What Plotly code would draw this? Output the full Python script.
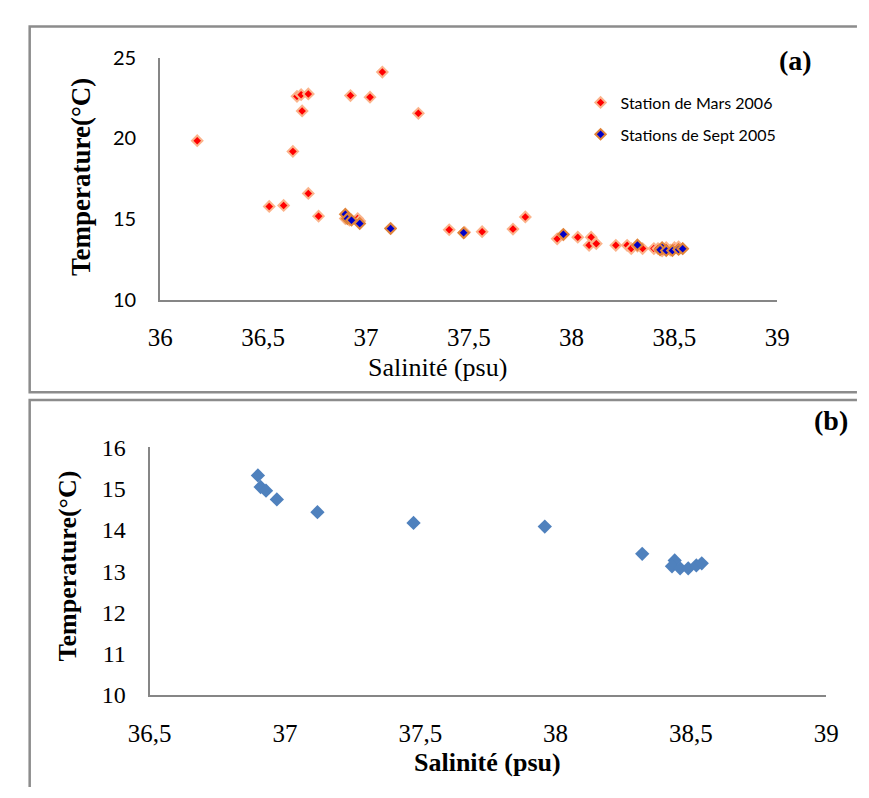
import plotly.graph_objects as go

W, H = 869, 798

# Station de Mars 2006 : salinité (psu) / température (°C)
mars_sal = [36.18, 36.53, 36.60, 36.645, 36.665, 36.685, 36.69, 36.72, 36.72, 36.77,
            36.90, 36.92, 36.96, 36.97, 36.925, 37.02, 37.08, 37.255, 37.12, 37.405,
            37.48, 37.565, 37.715, 37.775, 37.93, 37.96, 38.03, 38.095, 38.085, 38.12,
            38.215, 38.27, 38.29, 38.32, 38.345, 38.40, 38.42, 38.44, 38.46, 38.48,
            38.50, 38.52, 38.54]
mars_temp = [19.86, 15.8, 15.86, 19.2, 22.6, 22.7, 21.7, 22.75, 16.6, 15.2,
             15.05, 14.95, 15.05, 14.9, 22.65, 22.55, 24.1, 21.55, 14.45, 14.36,
             14.2, 14.24, 14.4, 15.15, 13.8, 14.05, 13.9, 13.9, 13.4, 13.5,
             13.4, 13.4, 13.2, 13.35, 13.2, 13.2, 13.2, 13.05, 13.25, 13.1,
             13.25, 13.3, 13.2]

# Stations de Sept 2005
sept_sal = [36.90, 36.91, 36.93, 36.97, 37.12, 37.475, 37.96, 38.32,
            38.44, 38.43, 38.46, 38.49, 38.52, 38.54]
sept_temp = [15.32, 15.04, 14.95, 14.74, 14.43, 14.17, 14.08, 13.42,
             13.26, 13.12, 13.07, 13.07, 13.14, 13.19]

SERIF = "Liberation Serif"
SANS = "Lato"
AXIS_GREY = "#868686"


def px_x(p):
    return p / W


def px_y(p):
    return 1 - p / H


fig = go.Figure()

fig.add_trace(go.Scatter(
    x=mars_sal, y=mars_temp, mode="markers", name="Station de Mars 2006",
    legendgroup="mars", xaxis="x", yaxis="y",
    marker=dict(symbol="diamond", size=8, color="#FF0000",
                line=dict(color="#FBB48C", width=2)),
))
fig.add_trace(go.Scatter(
    x=sept_sal, y=sept_temp, mode="markers", name="Stations de Sept 2005",
    legendgroup="sept", xaxis="x", yaxis="y",
    marker=dict(symbol="diamond", size=8, color="#0000C8",
                line=dict(color="#E0843A", width=2)),
))
fig.add_trace(go.Scatter(
    x=sept_sal, y=sept_temp, mode="markers", showlegend=False,
    xaxis="x2", yaxis="y2",
    marker=dict(symbol="diamond", size=11, color="#4F81BD", line=dict(width=0)),
))

common = dict(showgrid=False, zeroline=False, showline=True, linecolor=AXIS_GREY,
              linewidth=2, ticks="", mirror=False)

fig.update_layout(
    width=W, height=H, autosize=False,
    margin=dict(l=0, r=0, t=0, b=0),
    paper_bgcolor="white", plot_bgcolor="white",
    separators=", ",
    xaxis=dict(domain=[px_x(144), px_x(787)], range=[36, 39], dtick=0.5,
               tickfont=dict(family=SERIF, size=25, color="black"),
               ticklabelstandoff=14, anchor="y", **common),
    yaxis=dict(domain=[px_y(297), px_y(46)], range=[10, 25], dtick=5,
               tickfont=dict(family=SANS, size=20, color="black"),
               ticklabelstandoff=18, anchor="x", **common),
    xaxis2=dict(domain=[px_x(133), px_x(838)], range=[36.5, 39], dtick=0.5,
                tickfont=dict(family=SERIF, size=25, color="black"),
                ticklabelstandoff=15, anchor="y2", **common),
    yaxis2=dict(domain=[px_y(705), px_y(449)], range=[10, 16], dtick=1,
                tickfont=dict(family=SERIF, size=24, color="black"),
                ticklabelstandoff=17, anchor="x2", **common),
    legend=dict(x=px_x(582), y=px_y(75), xanchor="left", yanchor="top",
                font=dict(family=SANS, size=16, color="black"),
                bgcolor="rgba(0,0,0,0)", traceorder="grouped", tracegroupgap=8),
    showlegend=True,
)

annotations = [
    dict(text="<b>Temperature(°C)</b>", x=px_x(62), y=px_y(170), textangle=-90,
         font=dict(family=SERIF, size=27, color="black")),
    dict(text="Salinité (psu)", x=px_x(433), y=px_y(366),
         font=dict(family=SERIF, size=26, color="black")),
    dict(text="<b>(a)</b>", x=px_x(806), y=px_y(49),
         font=dict(family=SERIF, size=28, color="black")),
    dict(text="<b>Temperature(°C)</b>", x=px_x(47), y=px_y(572), textangle=-90,
         font=dict(family=SERIF, size=26, color="black")),
    dict(text="<b>Salinité (psu)</b>", x=px_x(485), y=px_y(775),
         font=dict(family=SERIF, size=26, color="black")),
    dict(text="<b>(b)</b>", x=px_x(843), y=px_y(421),
         font=dict(family=SERIF, size=28, color="black")),
]
for a in annotations:
    a.update(xref="paper", yref="paper", showarrow=False,
             xanchor="center", yanchor="middle")
fig.update_layout(annotations=annotations)

# panel frames
frame = dict(color="#8C8C8C", width=2.5)
fig.add_shape(type="path", xref="paper", yref="paper", line=frame,
              path=f"M {px_x(870)},{px_y(14)} L {px_x(8)},{px_y(14)} "
                   f"L {px_x(8)},{px_y(392)} L {px_x(870)},{px_y(392)}")
fig.add_shape(type="path", xref="paper", yref="paper", line=frame,
              path=f"M {px_x(870)},{px_y(400)} L {px_x(8)},{px_y(400)} "
                   f"L {px_x(8)},{px_y(800)}")

fig.write_html("out.html")
